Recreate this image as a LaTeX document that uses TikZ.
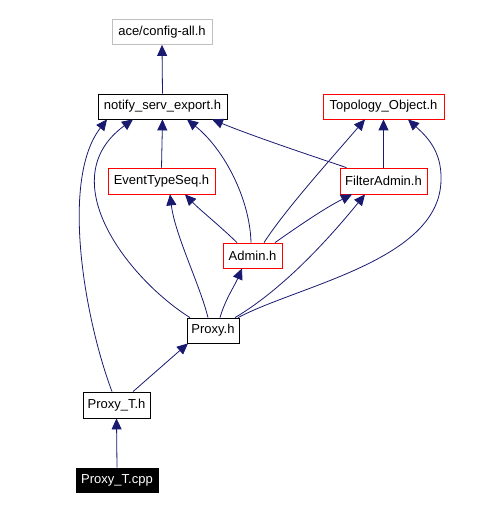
\documentclass[tikz,border=0pt]{standalone}
\usepackage{fontspec}
\setmainfont{Liberation Sans}
\usepackage{tikz}
\usetikzlibrary{arrows.meta,
  positioning
}
\definecolor{edgeblue}{RGB}{25,25,112}
\definecolor{boxgray}{RGB}{191,191,191}
\tikzstyle{filebox} = [draw, line width=0.8, inner sep=0pt,
  minimum height=25, font=\fontsize{13}{15}\selectfont]
\tikzstyle{inc} = [-{Triangle[length=11pt,width=10pt]}, line width=0.8, edgeblue]

\begin{document}
\begin{tikzpicture}[x=1pt, y=-1pt]
  \useasboundingbox (0,0) rectangle (483,510);

  % files
  \node[filebox, boxgray, text=black, minimum width=100] (config) at (162,32) {ace/config-all.h};
  \node[filebox, minimum width=129] (notify) at (162.5,106.5) {notify\_serv\_export.h};
  \node[filebox, red, text=black, minimum width=121] (topo) at (383.5,106.5) {Topology\_Object.h};
  \node[filebox, red, text=black, minimum width=107, minimum height=26] (evts) at (161.5,181) {EventTypeSeq.h};
  \node[filebox, red, text=black, minimum width=87, minimum height=26] (filter) at (383.5,181) {FilterAdmin.h};
  \node[filebox, red, text=black, minimum width=59] (admin) at (252.5,255.5) {Admin.h};
  \node[filebox, minimum width=52] (proxy) at (213,330.5) {Proxy.h};
  \node[filebox, minimum width=67, minimum height=26] (proxyt) at (116.5,405) {Proxy\_T.h};
  \node[filebox, fill=black, text=white, minimum width=82, minimum height=24] (cpp) at (117,480) {Proxy\_T.cpp};

  % straight includes
  \draw[inc] (notify.north) -- (config.south);
  \draw[inc] (evts.north) -- (notify.south);
  \draw[inc] (filter.north) -- (topo.south);
  \draw[inc] (cpp.north) -- (proxyt.south);

  % FilterAdmin.h
  \draw[inc] ([xshift=-37]filter.north) .. controls (300,152) and (250,135) .. ([xshift=49.5]notify.south);

  % Admin.h
  \draw[inc] ([xshift=-15.5]admin.north) .. controls (220,226) and (200,210) .. ([xshift=23.5]evts.south);
  \draw[inc] ([xshift=-1.5]admin.north) .. controls (250,200) and (225,150) .. ([xshift=24.5]notify.south);
  \draw[inc] ([xshift=11.5]admin.north) .. controls (285,210) and (330,160) .. ([xshift=-18.5]topo.south);
  \draw[inc] ([xshift=22.5]admin.north) .. controls (300,225) and (325,208) .. ([xshift=-31.5]filter.south);

  % Proxy.h
  \draw[inc] ([xshift=7]proxy.north) .. controls (225,300) and (235,285) .. ([xshift=-10.5]admin.south);
  \draw[inc] ([xshift=-5]proxy.north) .. controls (200,285) and (175,235) .. ([xshift=8.5]evts.south);
  \draw[inc] ([xshift=22]proxy.north) .. controls (290,285) and (340,225) .. ([xshift=-18.5]filter.south);
  \draw[inc] ([xshift=-23]proxy.north) .. controls (130,280) and (50,180) .. ([xshift=-29.5]notify.south);
  \draw[inc] ([xshift=25]proxy.north) .. controls (300,285) and (440,260) .. (441,180)
    .. controls (442,150) and (425,135) .. ([xshift=24.5]topo.south);

  % Proxy_T.h
  \draw[inc] ([xshift=16.5]proxyt.north) -- ([xshift=-25]proxy.south);
  \draw[inc] ([xshift=-4.5]proxyt.north) .. controls (85,320) and (60,180) .. ([xshift=-55.5]notify.south);
\end{tikzpicture}
\end{document}
